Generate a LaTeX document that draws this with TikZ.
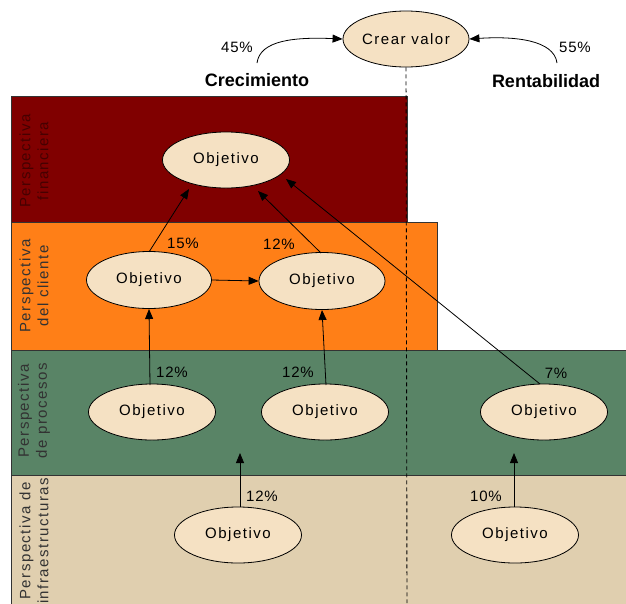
\documentclass[tikz,border=0pt]{standalone}
\usepackage{fontspec}
\setmainfont{Liberation Sans}
\usetikzlibrary{shapes.geometric,arrows.meta}
\definecolor{finred}{RGB}{128,0,0}
\definecolor{cliorange}{RGB}{255,127,23}
\definecolor{procgreen}{RGB}{89,132,102}
\definecolor{infratan}{RGB}{224,207,175}
\definecolor{objfill}{RGB}{245,225,195}
\definecolor{finlabel}{RGB}{70,0,0}
\definecolor{bandlabel}{RGB}{50,50,50}
\newfontfamily\spacedfont[LetterSpace=10]{Liberation Sans}
\newfontfamily\pctfont[LetterSpace=5]{Liberation Sans}
\tikzset{
  band/.style={draw=black!80, line width=0.8pt},
  objective/.style={ellipse, draw=black, line width=0.8pt, fill=objfill,
    minimum width=127pt, minimum height=56pt, inner sep=0pt,
    font=\spacedfont\fontsize{15}{18}\selectfont},
  pct/.style={font=\pctfont\fontsize{15}{18}\selectfont, inner sep=0pt},
  axislabel/.style={font=\bfseries\fontsize{18}{21}\selectfont, inner sep=0pt},
  bandtitle/.style={rotate=90, align=center, inner sep=0pt,
    font=\spacedfont\fontsize{15}{18}\selectfont},
  link/.style={-{Triangle[length=10pt,width=8pt]}, line width=0.8pt, black},
  divider/.style={line width=0.9pt, black, dash pattern=on 4pt off 3pt}
}
\begin{document}
\begin{tikzpicture}[x=1pt,y=-1pt]
\useasboundingbox (0,0) rectangle (626,603);

% perspective bands
\fill[white] (0,0) rectangle (626,603);
\draw[band, fill=finred] (11,96) rectangle (407,222);
\draw[band, fill=cliorange] (11,222) rectangle (437,350);
\draw[band, fill=procgreen] (11,350) rectangle (627,475);
\draw[band, fill=infratan] (11,475) rectangle (627,605);

% band titles
\node[bandtitle, text=finlabel] (tfin) at (34,161) {Perspectiva\\financiera};
\node[bandtitle, text=bandlabel] (tcli) at (34,286) {Perspectiva\\del cliente};
\node[bandtitle, text=bandlabel] (tproc) at (34,411) {Perspectiva\\de procesos};
\node[bandtitle, text=bandlabel] (tinf) at (34,541) {Perspectiva de\\infraestructuras};

% top value node
\node[objective, minimum width=126pt] (valor) at (406,39) {Crear valor};
\coordinate (divend) at (407,603);
\draw[divider] (valor.south) -- (divend);

\node[axislabel] (crec) at (257,80) {Crecimiento};
\node[axislabel] (rent) at (546,81) {Rentabilidad};
\node[pct] (p45) at (237,47) {45\%};
\node[pct] (p55) at (575,47) {55\%};
\coordinate (c45) at (257,63);
\coordinate (c55) at (557,63);
\draw[link] (c45) .. controls (260,40) and (295,37) .. (valor.west);
\draw[link] (c55) .. controls (554,40) and (515,36) .. (valor.east);

% objectives
\node[objective] (fin) at (226,160) {Objetivo};
\node[objective, minimum width=125pt, minimum height=57pt] (cl1) at (149,280) {Objetivo};
\node[objective, minimum width=126pt, minimum height=57pt] (cl2) at (322,281) {Objetivo};
\node[objective] (pr1) at (152,412) {Objetivo};
\node[objective] (pr2) at (325,412) {Objetivo};
\node[objective] (pr3) at (544,412) {Objetivo};
\node[objective] (in1) at (238,535) {Objetivo};
\node[objective] (in2) at (515,535) {Objetivo};

% cause-effect links
\coordinate (f1) at (189,189);
\coordinate (f2) at (258,191);
\coordinate (f3) at (286,179);
\coordinate (g1) at (240,453);
\coordinate (g2) at (514,453);
\draw[link] (149,252) -- (f1);
\draw[link] (321,253) -- (f2);
\draw[link] (540,384) -- (f3);
\draw[link] (cl1.east) -- (cl2.west);
\draw[link] (150,385) -- (149,309);
\draw[link] (326,385) -- (322,310);
\draw[link] (240,507) -- (g1);
\draw[link] (514,507) -- (g2);

% weights
\node[pct] (w1) at (183,243) {15\%};
\node[pct] (w2) at (279,244) {12\%};
\node[pct] (w3) at (172,372) {12\%};
\node[pct] (w4) at (298,372) {12\%};
\node[pct] (w5) at (556,373) {7\%};
\node[pct] (w6) at (262,496) {12\%};
\node[pct] (w7) at (486,496) {10\%};
\end{tikzpicture}
\end{document}
